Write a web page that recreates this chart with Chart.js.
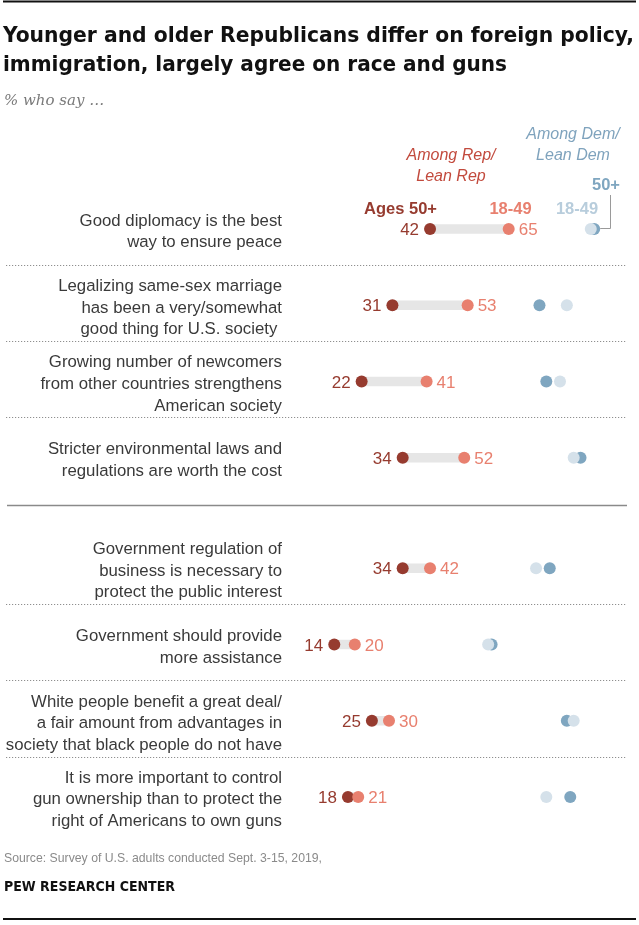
<!DOCTYPE html>
<html><head><meta charset="utf-8">
<script src="https://cdn.jsdelivr.net/npm/chart.js@4.4.1/dist/chart.umd.min.js"></script>
<style>html,body{margin:0;padding:0;background:#fff;}#wrap{width:639px;height:925px;position:relative;}canvas{display:block;}</style>
</head><body><div id="wrap"><canvas id="c" width="639" height="925"></canvas></div>
<script>
// ---------- DATA ----------
const titleLines = ["Younger and older Republicans differ on foreign policy,", "immigration, largely agree on race and guns"];
const subtitle = "% who say \u2026";
const categories = [
  ["Good diplomacy is the best", "way to ensure peace"],
  ["Legalizing same-sex marriage", "has been a very/somewhat", "good thing for U.S. society "],
  ["Growing number of newcomers", "from other countries strengthens", "American society"],
  ["Stricter environmental laws and", "regulations are worth the cost"],
  ["Government regulation of", "business is necessary to", "protect the public interest"],
  ["Government should provide", "more assistance"],
  ["White people benefit a great deal/", "a fair amount from advantages in", "society that black people do not have"],
  ["It is more important to control", "gun ownership than to protect the", "right of Americans to own guns"]
];
const repAges50 = [42, 31, 22, 34, 34, 14, 25, 18];
const repAges1849 = [65, 53, 41, 52, 42, 20, 30, 21];
const demAges1849 = [89, 82, 80, 84, 73, 59, 84, 76];
const demAges50 = [90, 74, 76, 86, 77, 60, 82, 83];
const groupSizes = [4, 4];
const repHeader = ["Among Rep/", "Lean Rep"];
const demHeader = ["Among Dem/", "Lean Dem"];
const ageLabels = ["Ages 50+", "18-49", "18-49", "50+"];
const sourceText = "Source: Survey of U.S. adults conducted Sept. 3-15, 2019,";
const creditText = "PEW RESEARCH CENTER";

// ---------- STYLE ----------
const C = {
  rep50: '#963b2f', rep1849: '#e8806f', dem50: '#7fa6c0', dem1849: '#d5e1ea',
  bar: '#e6e6e6', label: '#3a3a3a', repHead: '#c24a3d', demHead: '#7fa3bd', dem18Head: '#b8cddc'
};
const SANS = "'Liberation Sans', Arial, sans-serif";
const NARROW = "'Liberation Sans Narrow', 'DejaVu Sans Condensed', 'Liberation Sans', sans-serif";

const rowPos = categories.map((_, i) => i + (i >= groupSizes[0] ? 0.45 : 0));
const pts = arr => arr.map((v, i) => ({x: v, y: rowPos[i]}));

function drawText(ctx, s, x, y, font, color, align, targetW) {
  ctx.save();
  ctx.font = font; ctx.fillStyle = color; ctx.textBaseline = 'alphabetic';
  ctx.textAlign = align;
  if (targetW) {
    const w = ctx.measureText(s).width;
    const k = targetW / w;
    ctx.translate(x, y); ctx.scale(k, 1); ctx.fillText(s, 0, 0);
  } else {
    ctx.fillText(s, x, y);
  }
  ctx.restore();
}

const decor = {
  id: 'decor',
  beforeDatasetsDraw(chart) {
    const ctx = chart.ctx, ys = chart.scales.y;
    ctx.save();
    for (let i = 0; i < rowPos.length - 1; i++) {
      const a = ys.getPixelForValue(rowPos[i]), b = ys.getPixelForValue(rowPos[i + 1]);
      ctx.beginPath();
      if (i === groupSizes[0] - 1) {
        const y = Math.round(a + 0.43 * (b - a)) + 0.5;
        ctx.setLineDash([]); ctx.strokeStyle = '#8a8a8a'; ctx.lineWidth = 1.3;
        ctx.moveTo(7, y); ctx.lineTo(627, y);
      } else {
        const y = Math.round(a + 0.47 * (b - a)) + 0.5;
        ctx.setLineDash([1.2, 1.8]); ctx.strokeStyle = '#8f8f8f'; ctx.lineWidth = 1;
        ctx.moveTo(6, y); ctx.lineTo(627, y);
      }
      ctx.stroke();
    }
    ctx.restore();
  },
  afterDatasetsDraw(chart) {
    const ctx = chart.ctx, xs = chart.scales.x, ys = chart.scales.y;
    // top & bottom rules
    ctx.save();
    ctx.fillStyle = '#111';
    ctx.fillRect(3, 0.5, 633, 2);
    ctx.fillRect(3, 918, 633, 2);
    ctx.restore();
    // title
    drawText(ctx, titleLines[0], 3, 41.5, "bold 22px " + NARROW, '#111', 'left', 631);
    drawText(ctx, titleLines[1], 3, 70.5, "bold 22px " + NARROW, '#111', 'left', 504);
    drawText(ctx, subtitle, 4, 104.5, "italic 15px 'DejaVu Serif', 'Liberation Serif', serif", '#7a7a7a', 'left');
    // headers
    drawText(ctx, repHeader[0], 451, 160, "italic 16px " + SANS, C.repHead, 'center');
    drawText(ctx, repHeader[1], 451, 181, "italic 16px " + SANS, C.repHead, 'center');
    drawText(ctx, demHeader[0], 573, 139, "italic 16px " + SANS, C.demHead, 'center');
    drawText(ctx, demHeader[1], 573, 160, "italic 16px " + SANS, C.demHead, 'center');
    const bf = "bold 16.5px " + SANS;
    drawText(ctx, ageLabels[0], 437, 214, bf, C.rep50, 'right');
    drawText(ctx, ageLabels[1], 510.5, 214, bf, C.rep1849, 'center');
    drawText(ctx, ageLabels[2], 577, 214, bf, C.dem18Head, 'center');
    drawText(ctx, ageLabels[3], 606, 190, bf, C.dem50, 'center');
    // connector for Dem 50+
    const y0 = ys.getPixelForValue(rowPos[0]);
    const xd = xs.getPixelForValue(demAges50[0]);
    ctx.save();
    ctx.strokeStyle = '#9a9a9a'; ctx.lineWidth = 1;
    ctx.beginPath();
    ctx.moveTo(610.5, 195); ctx.lineTo(610.5, y0 - 0.5); ctx.lineTo(xd + 6, y0 - 0.5);
    ctx.stroke();
    ctx.restore();
    // row labels and values
    const lf = "16.8px " + SANS, vf = "17px " + SANS;
    categories.forEach((lines, i) => {
      const yc = ys.getPixelForValue(rowPos[i]);
      const n = lines.length;
      lines.forEach((ln, k) => {
        const cy = yc + 1.5 + (k - (n - 1) / 2) * 21.7;
        drawText(ctx, ln, 282, cy + 6, lf, C.label, 'right');
      });
      const xa = xs.getPixelForValue(repAges50[i]);
      const xb = xs.getPixelForValue(repAges1849[i]);
      drawText(ctx, String(repAges50[i]), xa - 11, yc + 6.2, vf, C.rep50, 'right');
      drawText(ctx, String(repAges1849[i]), xb + 10, yc + 6.2, vf, C.rep1849, 'left');
    });
    // footer
    drawText(ctx, sourceText, 4, 862, "13.5px " + SANS, '#8a8a8a', 'left', 318);
    drawText(ctx, creditText, 4, 891, "bold 13.5px " + NARROW, '#111', 'left', 171);
  }
};

new Chart(document.getElementById('c'), {
  type: 'scatter',
  data: {
    datasets: [
      { type: 'bar', indexAxis: 'y', data: rowPos.map((p, i) => ({y: p, x: [repAges50[i], repAges1849[i]]})),
        backgroundColor: C.bar, barThickness: 9, order: 10, borderWidth: 0 },
      { data: pts(demAges50), backgroundColor: C.dem50, pointRadius: 6, borderWidth: 0, order: 4 },
      { data: pts(demAges1849), backgroundColor: C.dem1849, pointRadius: 6, borderWidth: 0, order: 3 },
      { data: pts(repAges50), backgroundColor: C.rep50, pointRadius: 6, borderWidth: 0, order: 2 },
      { data: pts(repAges1849), backgroundColor: C.rep1849, pointRadius: 6, borderWidth: 0, order: 1 }
    ]
  },
  options: {
    responsive: false, animation: false, events: [],
    devicePixelRatio: window.devicePixelRatio || 1,
    plugins: { legend: { display: false }, tooltip: { enabled: false } },
    layout: { padding: { left: 286.4, right: 10.6, top: 152.76, bottom: 51.76 } },
    scales: {
      x: { type: 'linear', min: 0, max: 100, display: false, offset: false },
      y: { type: 'linear', min: -1, max: 8.45, reverse: true, display: false, offset: false }
    }
  },
  plugins: [decor]
});
</script>
</body></html>
